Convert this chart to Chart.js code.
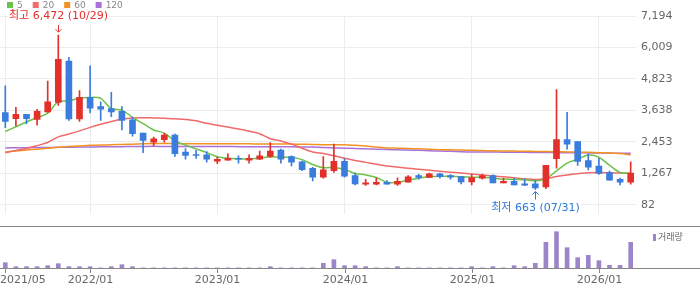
<!DOCTYPE html>
<html>
<head>
<meta charset="utf-8">
<script src="https://cdn.jsdelivr.net/npm/chart.js@4/dist/chart.umd.min.js"></script>
<style>
  html, body { margin: 0; padding: 0; background: #fff; }
  #wrap { position: relative; width: 700px; height: 289px; overflow: hidden; }
  #priceChart { position: absolute; left: 0; top: 0; }
  #volChart { position: absolute; left: 0; top: 226px; }
</style>
</head>
<body>
<div id="wrap">
  <canvas id="priceChart" width="700" height="226"></canvas>
  <canvas id="volChart" width="700" height="63"></canvas>
</div>
<script>
//******** Data ********
const months = [
  '2021/05','2021/06','2021/07','2021/08','2021/09','2021/10','2021/11','2021/12',
  '2022/01','2022/02','2022/03','2022/04','2022/05','2022/06','2022/07','2022/08','2022/09','2022/10','2022/11','2022/12',
  '2023/01','2023/02','2023/03','2023/04','2023/05','2023/06','2023/07','2023/08','2023/09','2023/10','2023/11','2023/12',
  '2024/01','2024/02','2024/03','2024/04','2024/05','2024/06','2024/07','2024/08','2024/09','2024/10','2024/11','2024/12',
  '2025/01','2025/02','2025/03','2025/04','2025/05','2025/06','2025/07','2025/08','2025/09','2025/10','2025/11','2025/12',
  '2026/01','2026/02','2026/03','2026/04'
];

const openP  = [3560,3332,3489,3297,3581,3937,5493,3322,4130,3784,3713,3606,3286,2788,2442,2538,2716,2076,1969,1969,
                1730,1766,1837,1766,1801,1908,2147,1898,1709,1460,1125,1374,1720,1186,865,865,936,865,936,1186,
                1114,1257,1186,1150,947,1089,1186,911,972,876,876,758,1826,2538,2467,1755,1542,1303,1043,936];
const highP  = [4568,3760,3489,3678,4746,6472,5636,4390,5315,3962,4318,3784,3393,2788,2634,2777,2752,2207,2136,2086,
                1887,2004,1933,1969,2111,2432,2182,1933,1730,1495,1898,2371,1837,1282,1043,1089,997,1104,1186,1232,
                1282,1282,1221,1161,1246,1246,1211,1089,1089,1068,1018,1577,4425,3571,2467,1994,1837,1353,1089,1709];
const lowP   = [2990,3062,3144,3083,3560,3831,3261,3225,3546,3261,3403,2905,2670,2051,2314,2442,1908,1801,1837,1695,
                1638,1766,1659,1659,1790,1873,1659,1552,1374,983,1089,1303,1125,840,819,840,865,819,936,1054,
                1114,1089,1054,876,840,1054,911,911,840,805,663,698,1470,2182,1567,1399,1232,1018,840,865];
const closeP = [3225,3489,3332,3606,3962,5564,3322,4130,3724,3688,3581,3261,2763,2513,2574,2716,2015,1944,1944,1801,
                1801,1837,1801,1837,1933,2111,1801,1695,1410,1125,1399,1720,1161,876,911,936,865,972,1139,1114,
                1257,1150,1125,947,1114,1186,911,972,840,830,723,1577,2538,2371,1720,1506,1268,1018,936,1282];

const ma5   = [2848,3026,3204,3368,3535,3973,3998,4105,4130,4094,3703,3653,3382,3144,2905,2788,2492,2335,2193,2051,
               1898,1837,1816,1816,1837,1898,1873,1873,1787,1602,1481,1495,1424,1267,1211,1114,936,936,1018,1089,
               1139,1161,1161,1139,1125,1125,1089,1054,1043,1032,983,1068,1364,1659,1801,1958,1873,1577,1303,1267];
const ma20  = [2051,2136,2207,2314,2432,2645,2752,2870,3001,3119,3225,3311,3357,3368,3357,3346,3322,3297,3250,3154,
               3083,3012,2941,2859,2763,2574,2492,2371,2218,2076,2015,1933,1837,1755,1684,1613,1552,1506,1460,1424,
               1389,1353,1317,1282,1246,1211,1175,1139,1104,1068,1043,1068,1150,1211,1257,1292,1303,1292,1282,1267];
const ma60  = [2076,2111,2147,2182,2218,2254,2278,2300,2325,2335,2349,2360,2371,2385,2396,2392,2390,2388,2386,2385,
               2384,2383,2382,2381,2380,2379,2376,2372,2366,2358,2349,2349,2349,2325,2300,2264,2229,2218,2207,2193,
               2182,2164,2157,2147,2136,2129,2122,2111,2108,2100,2097,2090,2086,2076,2072,2065,2051,2040,2015,1969];
const ma120 = [2229,2233,2238,2242,2246,2250,2255,2259,2263,2268,2272,2276,2280,2285,2289,2282,2280,2280,2279,2279,
               2278,2278,2277,2276,2275,2273,2270,2268,2266,2262,2240,2229,2218,2207,2193,2182,2170,2157,2147,2136,
               2122,2111,2100,2086,2076,2076,2072,2069,2065,2062,2058,2055,2051,2047,2044,2040,2036,2033,2029,2025];

// 거래량 (천주)
const volume = [530,130,130,130,230,430,130,130,130,10,130,330,130,10,10,10,10,10,10,10,
                10,10,10,10,10,130,10,10,10,10,470,830,230,230,130,10,10,130,10,10,
                10,10,10,10,130,10,130,10,230,130,470,2570,3630,2030,1030,1270,730,270,270,2570];

const priceTicks = [82, 1267, 2453, 3638, 4823, 6009, 7194];
const maNames = ['5', '20', '60', '120'];
const hiIdx = 5, hiText = '최고 6,472 (10/29)';
const loIdx = 50, loText = '최저 663 (07/31)';

//******** Style ********
const UP = '#e3302a';
const DOWN = '#3b7ddd';
const maColors = ['#6cc24a', '#f06a6a', '#f39224', '#a872d8'];
const FONT = '"DejaVu Sans", "Noto Sans CJK KR", sans-serif';

const candleColor = openP.map((o, i) => closeP[i] >= o ? UP : DOWN);
const showTick = i => i === 0 || months[i].endsWith('/01');

//******** Price chart ********
const priceOverlay = {
  id: 'priceOverlay',
  afterDraw(chart) {
    const ctx = chart.ctx;
    const xs = chart.scales.x, ys = chart.scales.y;
    ctx.save();

    // legend
    ctx.font = '9px ' + FONT;
    ctx.textBaseline = 'middle';
    ctx.textAlign = 'left';
    let lx = 7;
    maNames.forEach((name, k) => {
      ctx.fillStyle = maColors[k];
      ctx.fillRect(lx, 2, 6, 6);
      lx += 10;
      ctx.fillStyle = '#888';
      ctx.fillText(name, lx, 5.5);
      lx += ctx.measureText(name).width + 10;
    });

    // high / low marks
    ctx.font = '11px ' + FONT;
    ctx.textAlign = 'center';
    ctx.lineWidth = 1;

    let x = Math.round(xs.getPixelForValue(hiIdx)) + 0.5;
    let tip = ys.getPixelForValue(highP[hiIdx]) - 3;
    let w = ctx.measureText(hiText).width;
    ctx.fillStyle = '#fff';
    ctx.fillRect(x - w / 2 - 1, tip - 23, w + 2, 13);
    ctx.fillStyle = UP;
    ctx.fillText(hiText, x, tip - 16);
    ctx.strokeStyle = UP;
    ctx.beginPath();
    ctx.moveTo(x, tip - 7); ctx.lineTo(x, tip);
    ctx.moveTo(x - 3, tip - 3); ctx.lineTo(x, tip); ctx.lineTo(x + 3, tip - 3);
    ctx.stroke();

    x = Math.round(xs.getPixelForValue(loIdx)) + 0.5;
    tip = ys.getPixelForValue(lowP[loIdx]) + 2;
    w = ctx.measureText(loText).width;
    ctx.fillStyle = '#fff';
    ctx.fillRect(x - w / 2 - 1, tip + 11, w + 2, 13);
    ctx.fillStyle = '#2a7ad8';
    ctx.fillText(loText, x, tip + 17);
    ctx.strokeStyle = '#2a7ad8';
    ctx.beginPath();
    ctx.moveTo(x, tip + 8); ctx.lineTo(x, tip);
    ctx.moveTo(x - 3, tip + 3); ctx.lineTo(x, tip); ctx.lineTo(x + 3, tip + 3);
    ctx.stroke();

    ctx.restore();
  }
};

const maDataset = (label, data, k) => ({
  type: 'line', label, data,
  borderColor: maColors[k], borderWidth: 1.5,
  pointRadius: 0, tension: 0.3, order: 1
});

new Chart(document.getElementById('priceChart'), {
  type: 'bar',
  data: {
    labels: months,
    datasets: [
      { label: 'wick', data: lowP.map((l, i) => [l, highP[i]]), backgroundColor: candleColor,
        barThickness: 1, grouped: false, order: 0 },
      { label: 'body', data: openP.map((o, i) => [o, closeP[i]]), backgroundColor: candleColor,
        barThickness: 6, grouped: false, minBarLength: 1, order: 0 },
      maDataset('5', ma5, 0),
      maDataset('20', ma20, 1),
      maDataset('60', ma60, 2),
      maDataset('120', ma120, 3)
    ]
  },
  options: {
    responsive: false,
    animation: false,
    layout: { padding: { top: 16, bottom: 0, left: 0, right: 0 } },
    plugins: { legend: { display: false }, tooltip: { enabled: false } },
    scales: {
      x: {
        offset: true,
        grid: { color: '#ececec', offset: false, drawTicks: false },
        border: { display: false },
        ticks: { display: false },
        afterBuildTicks: s => { s.ticks = s.ticks.filter(t => showTick(t.value)); }
      },
      y: {
        position: 'right',
        min: -274, max: 7194,
        grid: { color: '#ececec', drawTicks: false },
        border: { display: false },
        ticks: {
          padding: 5, color: '#666', font: { family: FONT, size: 11 },
          callback: v => v.toLocaleString('en-US')
        },
        afterBuildTicks: s => { s.ticks = priceTicks.map(v => ({ value: v })); },
        afterFit: s => { s.width = 64; }
      }
    }
  },
  plugins: [priceOverlay]
});

//******** Volume chart ********
const volOverlay = {
  id: 'volOverlay',
  afterDraw(chart) {
    const ctx = chart.ctx;
    const xs = chart.scales.x;
    const base = chart.chartArea.bottom;
    ctx.save();
    ctx.strokeStyle = '#888';
    ctx.lineWidth = 1;
    ctx.beginPath();
    ctx.moveTo(0, 0.5); ctx.lineTo(700, 0.5);
    ctx.moveTo(0, base + 0.5); ctx.lineTo(700, base + 0.5);
    ctx.stroke();

    ctx.font = '11px ' + FONT;
    ctx.fillStyle = '#666';
    ctx.textBaseline = 'middle';
    ctx.textAlign = 'left';
    months.forEach((m, i) => {
      if (!showTick(i)) return;
      const x = Math.round(xs.getPixelForValue(i)) + 0.5;
      ctx.beginPath();
      ctx.moveTo(x, base); ctx.lineTo(x, base + 5);
      ctx.stroke();
      const w = ctx.measureText(m).width;
      const lx = Math.max(0, Math.min(700 - w, x - w / 2));
      ctx.fillText(m, lx, base + 12.5);
    });

    // legend
    ctx.fillStyle = '#9b85c8';
    ctx.fillRect(653, 8, 3, 7);
    ctx.font = '9px ' + FONT;
    ctx.fillStyle = '#666';
    ctx.fillText('거래량', 658, 11.5);
    ctx.restore();
  }
};

new Chart(document.getElementById('volChart'), {
  type: 'bar',
  data: {
    labels: months,
    datasets: [{ label: '거래량', data: volume, backgroundColor: '#9b85c8', barThickness: 4 }]
  },
  options: {
    responsive: false,
    animation: false,
    layout: { padding: { top: 2, bottom: 21, left: 0, right: 64 } },
    plugins: { legend: { display: false }, tooltip: { enabled: false } },
    scales: {
      x: { display: false, offset: true },
      y: { display: false, min: 0, max: 4000 }
    }
  },
  plugins: [volOverlay]
});
</script>
</body>
</html>
